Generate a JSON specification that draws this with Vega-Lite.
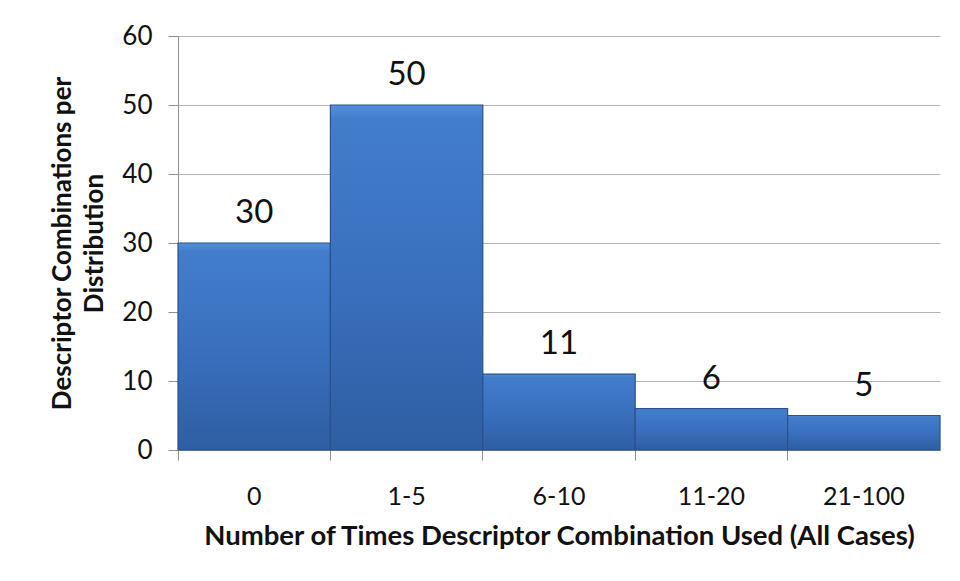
{
  "$schema": "https://vega.github.io/schema/vega-lite/v6.json",
  "width": 762,
  "height": 414,
  "autosize": "none",
  "padding": {"left": 178, "top": 36, "right": 20, "bottom": 131},
  "background": "white",
  "config": {
    "view": {"stroke": null},
    "font": "Lato"
  },
  "data": {
    "values": [
      {"bin": "0", "count": 30},
      {"bin": "1-5", "count": 50},
      {"bin": "6-10", "count": 11},
      {"bin": "11-20", "count": 6},
      {"bin": "21-100", "count": 5}
    ]
  },
  "encoding": {
    "x": {
      "field": "bin",
      "type": "nominal",
      "sort": null,
      "scale": {"paddingInner": 0, "paddingOuter": 0},
      "axis": {
        "title": "Number of Times Descriptor Combination Used (All Cases)",
        "titleFont": "Lato",
        "titleFontSize": 27.5,
        "titleFontWeight": "bold",
        "titleColor": "#111111",
        "titlePadding": 13,
        "labelAngle": 0,
        "labelFont": "Lato",
        "labelFontSize": 25,
        "labelColor": "#111111",
        "labelPadding": 24,
        "bandPosition": 0,
        "tickSize": 10,
        "tickColor": "#909090",
        "domainColor": "#909090",
        "grid": false
      }
    },
    "y": {
      "field": "count",
      "type": "quantitative",
      "scale": {"domain": [0, 60], "nice": false},
      "axis": {
        "title": ["Descriptor Combinations per", "Distribution"],
        "titleFont": "Lato",
        "titleFontSize": 26,
        "titleFontWeight": "bold",
        "titleColor": "#111111",
        "titlePadding": 14,
        "titleLineHeight": 32,
        "values": [0, 10, 20, 30, 40, 50, 60],
        "labelFont": "Lato",
        "labelFontSize": 26,
        "labelColor": "#111111",
        "labelPadding": 16,
        "tickSize": 10,
        "tickColor": "#909090",
        "domainColor": "#909090",
        "gridColor": "#b4b4b4",
        "gridWidth": 1.2
      }
    }
  },
  "layer": [
    {
      "mark": {
        "type": "bar",
        "stroke": "#2a528a",
        "strokeWidth": 1.2,
        "color": {
          "gradient": "linear",
          "x1": 0, "y1": 0, "x2": 0, "y2": 1,
          "stops": [
            {"offset": 0, "color": "#5290da"},
            {"offset": 0.04, "color": "#427dcc"},
            {"offset": 0.5, "color": "#3a70be"},
            {"offset": 1, "color": "#2e5ea2"}
          ]
        }
      }
    },
    {
      "mark": {
        "type": "text",
        "baseline": "alphabetic",
        "dy": -20,
        "font": "Lato",
        "fontSize": 33,
        "color": "#111111"
      },
      "encoding": {"text": {"field": "count", "type": "quantitative"}}
    }
  ]
}
